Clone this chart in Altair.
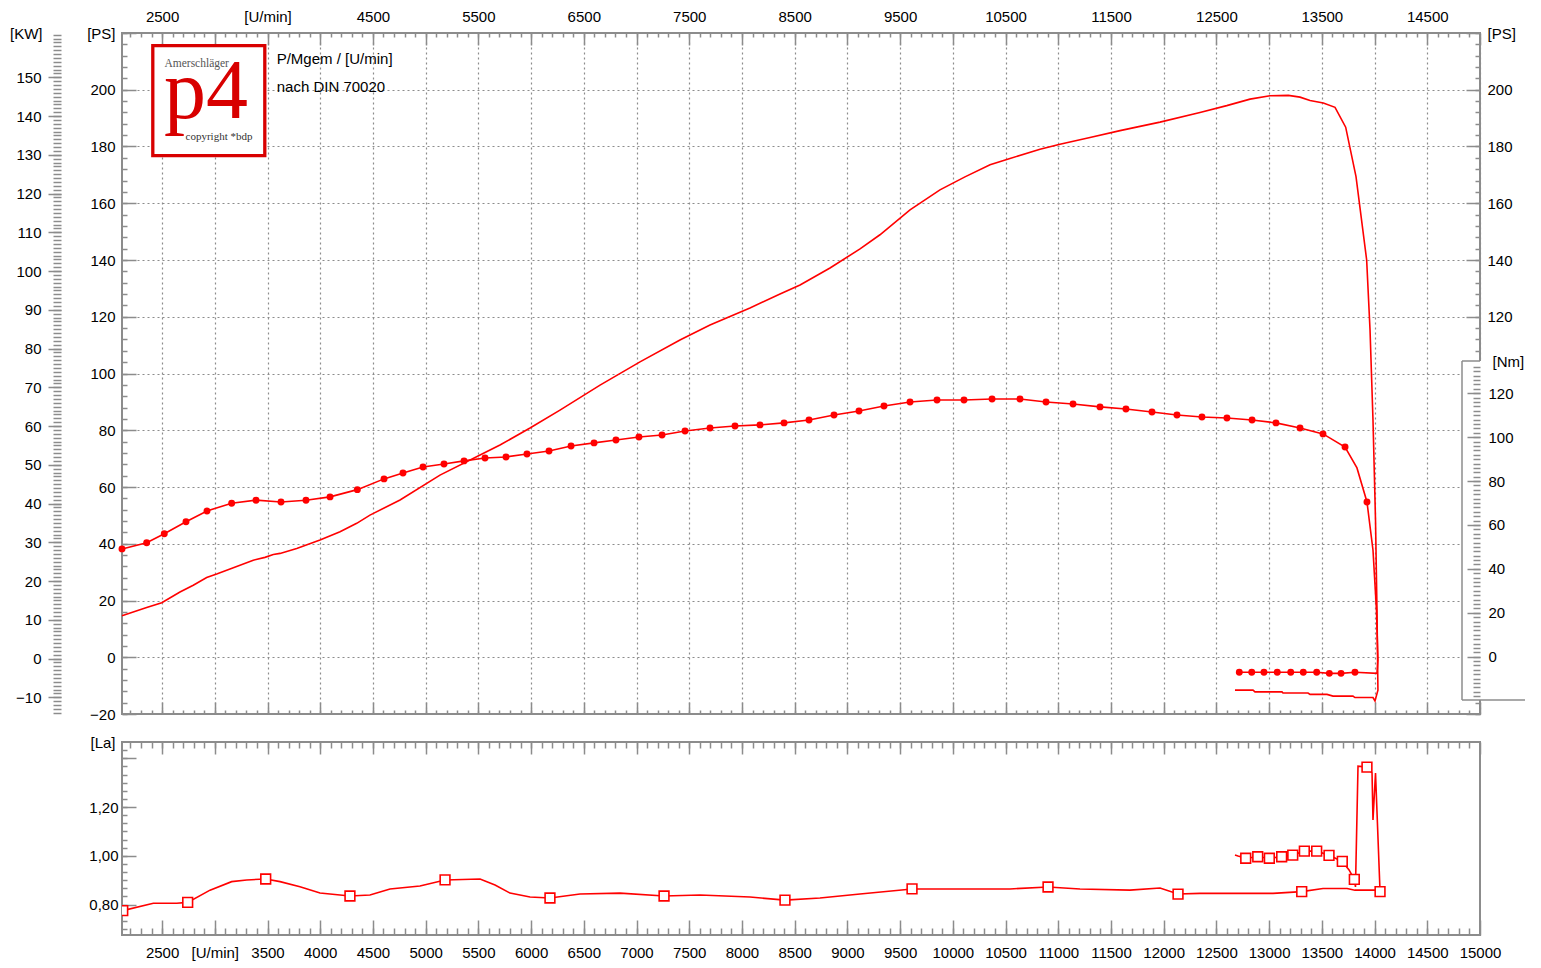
import altair as alt
import pandas as pd

# ---------------- data ----------------
# Leistung [PS] über Drehzahl [U/min] (Hochlauf + Auslauf)
power_rpm = [2120, 2354, 2497, 2670, 2796, 2923, 3018, 3176, 3365, 3476, 3555, 3619, 3777, 3998,
             4188, 4346, 4472, 4757, 5136, 5516, 5705, 5990, 6274, 6654, 7033, 7412, 7697, 8076,
             8361, 8551, 8835, 9120, 9309, 9594, 9878, 10115, 10353, 10542, 10827, 11016, 11301,
             11586, 11775, 11965, 12344, 12598, 12819, 13008, 13182, 13293, 13388, 13514, 13625,
             13726, 13824, 13925, 13957, 13985, 14009, 14023, 14032, 14004, 13985, 13814, 13795,
             13606, 13549, 13388, 13369, 13132, 13122, 12866, 12847, 12676]
power_ps = [14.6, 17.5, 19.2, 23.0, 25.4, 28.1, 29.3, 31.5, 34.2, 35.2, 36.2, 36.6, 38.3, 41.3,
            44.2, 47.2, 50.1, 55.4, 64.2, 71.3, 74.8, 80.8, 87.1, 95.9, 104.1, 111.8, 117.1, 123.1,
            128.0, 131.2, 137.2, 143.9, 148.9, 157.7, 164.7, 169.3, 173.6, 175.8, 179.0, 180.8, 183.2,
            185.6, 187.1, 188.6, 192.0, 194.4, 196.7, 197.9, 198.0, 197.4, 196.2, 195.3, 193.8,
            186.8, 169.4, 140.0, 115.3, 83.6, 48.3, 16.6, -11.6, -15.4, -14.2, -14.2, -13.7,
            -13.7, -13.1, -13.1, -12.6, -12.6, -12.2, -12.2, -11.6, -11.6]

# Drehmoment [Nm]
torque_rpm = [2120, 2354, 2521, 2727, 2926, 3160, 3391, 3628, 3865, 4093, 4352, 4605, 4785, 4975,
              5174, 5364, 5563, 5762, 5961, 6170, 6379, 6597, 6805, 7023, 7242, 7460, 7697, 7934,
              8171, 8399, 8636, 8873, 9110, 9347, 9594, 9850, 10106, 10372, 10637, 10884, 11140,
              11396, 11642, 11889, 12126, 12363, 12600, 12838, 13065, 13293, 13511, 13720, 13833,
              13928, 13985, 14018, 14032, 14023, 13814, 13682, 13571, 13451, 13324, 13205, 13077,
              12951, 12835, 12717]
torque_nm = [49.1, 51.9, 56.0, 61.5, 66.4, 69.9, 71.3, 70.5, 71.3, 72.8, 76.1, 81.0, 83.7, 86.4,
             87.8, 89.2, 90.5, 91.0, 92.3, 93.7, 96.0, 97.4, 98.7, 100.1, 101.0, 102.8, 104.2, 105.1,
             105.6, 106.5, 107.8, 110.1, 111.9, 114.2, 116.0, 116.9, 116.9, 117.4, 117.4, 116.0, 115.1,
             113.8, 112.8, 111.5, 110.1, 109.2, 108.7, 107.8, 106.5, 104.2, 101.5, 95.5, 86.0,
             70.5, 48.6, 21.3, -1.5, -7.6, -7.1, -7.6, -7.6, -7.1, -7.1, -7.1, -7.1,
             -7.1, -7.1, -7.1]
torque_marker = [1] * 52 + [0, 1, 0, 0, 0, 0] + [1] * 10

# Lambda [La]
lambda_rpm = [2127, 2417, 2639, 2743, 2955, 3160, 3303, 3483, 3619, 3808, 3998, 4282, 4472, 4662,
              4946, 5184, 5516, 5658, 5800, 5990, 6179, 6464, 6843, 7261, 7602, 8076, 8408, 8740,
              9120, 9613, 10068, 10542, 10903, 11206, 11680, 11965, 12136, 12344, 13037, 13309,
              13511, 13739, 13814, 14004, 14052, 14009, 13985, 13976, 13928, 13843, 13819, 13808,
              13758, 13694, 13568, 13451, 13334, 13224, 13119, 13002, 12892, 12778, 12705, 12676]
lambda_la = [0.775, 0.805, 0.805, 0.809, 0.859, 0.894, 0.901, 0.905, 0.894, 0.873, 0.847, 0.835,
             0.839, 0.864, 0.876, 0.901, 0.905, 0.880, 0.847, 0.831, 0.827, 0.843, 0.847, 0.835,
             0.839, 0.831, 0.818, 0.827, 0.843, 0.864, 0.864, 0.864, 0.872, 0.864, 0.859, 0.868,
             0.843, 0.846, 0.846, 0.853, 0.866, 0.866, 0.859, 0.859, 0.853, 1.340, 1.147, 1.340,
             1.364, 1.368, 0.872, 0.903, 0.942, 0.977, 1.002, 1.019, 1.019, 1.003, 0.996, 0.990,
             0.996, 0.990, 0.999, 1.003]
lambda_marker = [1, 0, 0, 1, 0, 0, 0, 1, 0, 0,
                 0, 1, 0, 0, 0, 1, 0, 0, 0, 0,
                 1, 0, 0, 1, 0, 0, 1, 0, 0, 1,
                 0, 0, 1, 0, 0, 0, 1, 0, 0, 1,
                 0, 0, 0, 0, 1, 0, 0, 0, 1, 0,
                 0, 1, 0, 1, 1, 1, 1, 1, 1, 1,
                 1, 1, 0, 0]

# tick values
rpm_major = list(range(2500, 15001, 500))
rpm_minor = list(range(2200, 15000, 100))
ps_major = list(range(-20, 221, 20))
ps_minor = list(range(-20, 221, 4))
kw_major = list(range(-10, 151, 10))
kw_minor = list(range(-14, 162, 1))
nm_major = list(range(0, 121, 20))
nm_minor = list(range(-18, 133, 2))
la_major = [0.8, 1.0, 1.2, 1.4]
la_minor = [round(0.7 + k / 30, 4) for k in range(0, 23)]

# texts
logo_top = "Amerschläger"
logo_main = "p4"
logo_bottom = "copyright *bdp"
note_1 = "P/Mgem / [U/min]"
note_2 = "nach DIN 70020"

# ---------------- styling ----------------
RED = "#ff0000"
LOGO_RED = "#d80000"
GREY = "#8c8c8c"
FONT = "Liberation Sans"
SERIF = "Liberation Serif"

W, H_TOP, H_BOT = 1358, 681, 193
X_DOMAIN = [2120, 15000]
PS_DOMAIN = [-20, 220]
KW_DOMAIN = [-14.31, 161.43]
NM_DOMAIN = [-19.73, 134.7]
NM_RANGE = [667, 328]
LA_DOMAIN = [0.675, 1.467]

power = pd.DataFrame({"rpm": power_rpm, "ps": power_ps, "i": list(range(len(power_rpm)))})
torque = pd.DataFrame({"rpm": torque_rpm, "nm": torque_nm, "m": torque_marker,
                       "i": list(range(len(torque_rpm)))})
lam = pd.DataFrame({"rpm": lambda_rpm, "la": lambda_la, "m": lambda_marker,
                    "i": list(range(len(lambda_rpm)))})
one = pd.DataFrame({"k": [0]})
# anchor rows for the axis-only layers (inside every domain)
anchor_top = pd.DataFrame({"rpm": [8000], "v": [50]})
anchor_bot = pd.DataFrame({"rpm": [8000], "v": [1.0]})


def xs():
    return alt.Scale(domain=X_DOMAIN, nice=False, zero=False)


def ys(dom, rng=None):
    if rng is None:
        return alt.Scale(domain=dom, nice=False, zero=False)
    return alt.Scale(domain=dom, range=rng, nice=False, zero=False)


def tick_axis(orient, values, size, offset, **kw):
    spec = dict(orient=orient, values=values, tickSize=size, offset=offset,
                domain=False, grid=False, labels=False, title=None)
    spec.update(kw)
    return alt.Axis(**spec)


def axis_layer(df, yscale, xaxis=None, yaxis=None):
    return alt.Chart(df).mark_point(opacity=0, size=1).encode(
        x=alt.X("rpm:Q", scale=xs(), axis=xaxis),
        y=alt.Y("v:Q", scale=yscale, axis=yaxis),
    )


def txt(s, x, y, **kw):
    return alt.Chart(one).mark_text(**kw).encode(
        x=alt.value(x), y=alt.value(y), text=alt.value(s))


# ---------------- axes ----------------
x_top_major = tick_axis("top", rpm_major, 12, -12, labels=True, format="d", labelPadding=9,
                        labelExpr="datum.value == 3500 ? '[U/min]' : (datum.value % 1000 == 500 ? datum.label : '')",
                        grid=True)
x_top_minor = tick_axis("top", rpm_minor, 4, -4)
x_bot_major = tick_axis("bottom", rpm_major, 12, -12)
x_bot_minor = tick_axis("bottom", rpm_minor, 4, -4)

ps_left_major = tick_axis("left", ps_major, 14, -14, labels=True, labelPadding=7, grid=True,
                          labelExpr="datum.value <= 200 ? datum.label : ''",
                          title="[PS]", titleAngle=0, titleAlign="right", titleBaseline="middle",
                          titleX=-21, titleY=0)
ps_left_minor = tick_axis("left", ps_minor, 5, -5)
ps_right_major = tick_axis("right", ps_major, 14, -14, labels=True, labelPadding=7,
                           labelExpr="datum.value >= 120 && datum.value <= 200 ? datum.label : ''",
                           title="[PS]", titleAngle=0, titleAlign="left", titleBaseline="middle",
                           titleX=21, titleY=0)
ps_right_minor = tick_axis("right", ps_minor, 5, -5)
kw_major_ax = tick_axis("left", kw_major, 13, 61, labels=True, labelPadding=7,
                        title="[KW]", titleAngle=0, titleAlign="right", titleBaseline="middle",
                        titleX=-19, titleY=0)
kw_minor_ax = tick_axis("left", kw_minor, 8, 61)
nm_major_ax = tick_axis("right", nm_major, 13, -13, labels=True, labelPadding=8, zindex=1,
                        title="[Nm]", titleAngle=0, titleAlign="left", titleBaseline="middle",
                        titleX=25, titleY=328)
nm_minor_ax = tick_axis("right", nm_minor, 7, -7, zindex=1)

x2_top_major = tick_axis("top", rpm_major, 12, -12)
x2_top_minor = tick_axis("top", rpm_minor, 6, -6)
x2_bot_major = tick_axis("bottom", rpm_major, 15, -15, labels=True, format="d", labelPadding=10,
                         labelExpr="datum.value == 3000 ? '[U/min]' : datum.label")
x2_bot_minor = tick_axis("bottom", rpm_minor, 7, -7)
la_major_ax = tick_axis("left", la_major, 14, -14, labels=True, labelPadding=4,
                        labelExpr="datum.value > 1.3 ? '' : replace(format(datum.value, '.2f'), '.', ',')",
                        title="[La]", titleAngle=0, titleAlign="right", titleBaseline="middle",
                        titleX=-21, titleY=0)
la_minor_ax = tick_axis("left", la_minor, 5, -5)

# ---------------- top panel ----------------
top_layers = [
    axis_layer(anchor_top, ys(PS_DOMAIN), x_top_major, ps_left_major),
    axis_layer(anchor_top, ys(PS_DOMAIN), x_top_minor, ps_left_minor),
    axis_layer(anchor_top, ys(PS_DOMAIN), x_bot_major, ps_right_major),
    axis_layer(anchor_top, ys(PS_DOMAIN), x_bot_minor, ps_right_minor),
    axis_layer(anchor_top, ys(KW_DOMAIN), None, kw_major_ax),
    axis_layer(anchor_top, ys(KW_DOMAIN), None, kw_minor_ax),
    # logo
    alt.Chart(one).mark_rect(fill="white", stroke=LOGO_RED, strokeWidth=3.3).encode(
        x=alt.value(30.8), x2=alt.value(142.8), y=alt.value(12.7), y2=alt.value(122.7)),
    txt(logo_top, 74.7, 31, font=SERIF, fontSize=11.5, color="#555555", align="center", baseline="middle"),
    txt(logo_main, 42, 85, font=SERIF, fontSize=84, color=LOGO_RED, align="left", baseline="alphabetic"),
    txt(logo_bottom, 97, 104, font=SERIF, fontSize=11, color="#333333", align="center", baseline="middle"),
    txt(note_1, 154.7, 26, font=FONT, fontSize=15, color="black", align="left", baseline="middle"),
    txt(note_2, 154.7, 54, font=FONT, fontSize=15, color="black", align="left", baseline="middle"),
    # curves
    alt.Chart(power).mark_line(color=RED, strokeWidth=1.6).encode(
        x=alt.X("rpm:Q", scale=xs(), axis=None),
        y=alt.Y("ps:Q", scale=ys(PS_DOMAIN), axis=None),
        order=alt.Order("i:Q")),
    alt.Chart(torque).mark_line(color=RED, strokeWidth=1.6).encode(
        x=alt.X("rpm:Q", scale=xs(), axis=None),
        y=alt.Y("nm:Q", scale=ys(NM_DOMAIN, NM_RANGE), axis=None),
        order=alt.Order("i:Q")),
    alt.Chart(torque).transform_filter("datum.m == 1").mark_circle(color=RED, size=48, opacity=1).encode(
        x=alt.X("rpm:Q", scale=xs(), axis=None),
        y=alt.Y("nm:Q", scale=ys(NM_DOMAIN, NM_RANGE), axis=None)),
    # Nm scale box
    alt.Chart(one).mark_rect(fill="white", strokeWidth=0).encode(
        x=alt.value(1340), x2=alt.value(1403), y=alt.value(328), y2=alt.value(667)),
    alt.Chart(one).mark_rule(color=GREY, strokeWidth=1.5).encode(
        x=alt.value(1340), y=alt.value(328), y2=alt.value(667)),
    alt.Chart(one).mark_rule(color=GREY, strokeWidth=1.5).encode(
        x=alt.value(1340), x2=alt.value(1358), y=alt.value(328)),
    alt.Chart(one).mark_rule(color=GREY, strokeWidth=1.5).encode(
        x=alt.value(1340), x2=alt.value(1403), y=alt.value(667)),
    axis_layer(anchor_top, ys(NM_DOMAIN, NM_RANGE), None, nm_major_ax),
    axis_layer(anchor_top, ys(NM_DOMAIN, NM_RANGE), None, nm_minor_ax),
]
top = alt.layer(*top_layers).resolve_scale(x="independent", y="independent").resolve_axis(
    x="independent", y="independent").properties(width=W, height=H_TOP)

# ---------------- bottom panel ----------------
bot_layers = [
    axis_layer(anchor_bot, ys(LA_DOMAIN), x2_top_major, la_major_ax),
    axis_layer(anchor_bot, ys(LA_DOMAIN), x2_top_minor, la_minor_ax),
    axis_layer(anchor_bot, ys(LA_DOMAIN), x2_bot_major, None),
    axis_layer(anchor_bot, ys(LA_DOMAIN), x2_bot_minor, None),
    alt.Chart(lam).mark_line(color=RED, strokeWidth=1.6, clip=True).encode(
        x=alt.X("rpm:Q", scale=xs(), axis=None),
        y=alt.Y("la:Q", scale=ys(LA_DOMAIN), axis=None),
        order=alt.Order("i:Q")),
    alt.Chart(lam).transform_filter("datum.m == 1").mark_point(
        shape="square", size=95, filled=True, fill="white", stroke=RED, strokeWidth=1.6,
        opacity=1, clip=True).encode(
        x=alt.X("rpm:Q", scale=xs(), axis=None),
        y=alt.Y("la:Q", scale=ys(LA_DOMAIN), axis=None)),
]
bottom = alt.layer(*bot_layers).resolve_scale(x="independent", y="independent").resolve_axis(
    x="independent", y="independent").properties(width=W, height=H_BOT)

chart = alt.vconcat(top, bottom, spacing=28, bounds="flush").properties(
    padding={"left": 0, "top": 0, "right": 0, "bottom": 0}
).configure_view(stroke=GREY, strokeWidth=2).configure_axis(
    labelFont=FONT, labelFontSize=15, labelColor="black",
    titleFont=FONT, titleFontSize=15, titleFontWeight="normal", titleColor="black",
    labelFlush=False, labelOverlap=False, tickColor=GREY, tickWidth=1.5,
    gridColor=GREY, gridDash=[2, 3], gridWidth=1.2,
)

chart.save("out.html", embed_options={"renderer": "svg", "actions": False})
